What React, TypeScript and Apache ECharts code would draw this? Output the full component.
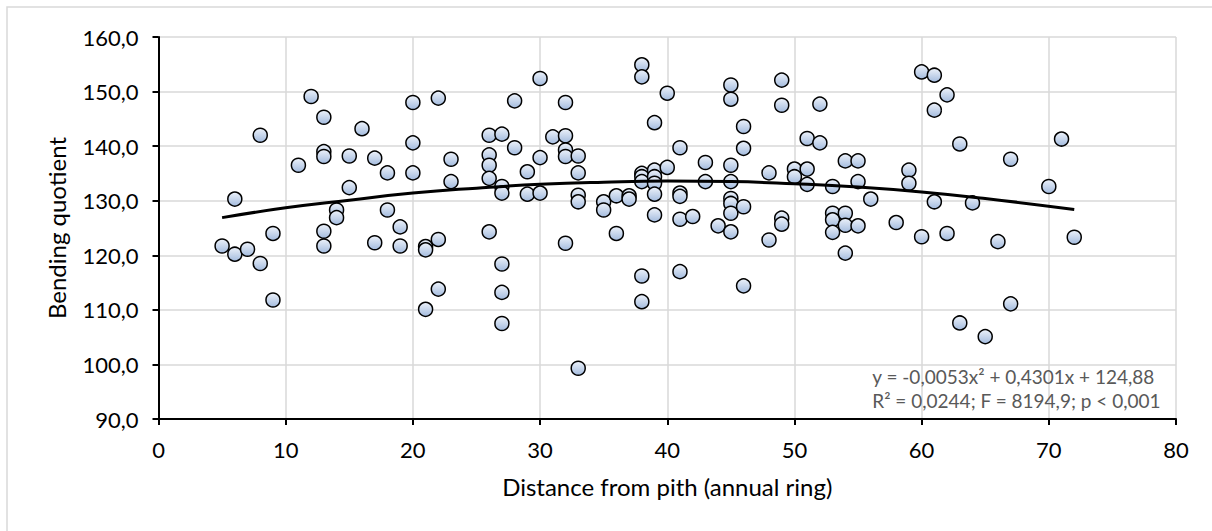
import React, { useEffect, useRef } from "react";
import * as echarts from "echarts";

// Observed points: [distance from pith (annual ring), bending quotient]
const ringX: number[] = [
  5, 6, 6, 7, 8, 8, 9, 9, 11, 12,
  13, 13, 13, 13, 13, 14, 14, 15, 15, 16,
  17, 17, 18, 18, 19, 19, 20, 20, 20, 21,
  21, 21, 22, 22, 22, 23, 23, 26, 26, 26,
  26, 26, 27, 27, 27, 27, 27, 27, 28, 28,
  29, 29, 30, 30, 30, 31, 32, 32, 32, 32,
  32, 33, 33, 33, 33, 33, 35, 35, 36, 36,
  37, 37, 38, 38, 38, 38, 38, 38, 38, 39,
  39, 39, 39, 39, 39, 40, 40, 41, 41, 41,
  41, 41, 42, 43, 43, 44, 45, 45, 45, 45,
  45, 45, 45, 45, 46, 46, 46, 46, 48, 48,
  49, 49, 49, 49, 50, 50, 51, 51, 51, 52,
  52, 53, 53, 53, 53, 54, 54, 54, 54, 55,
  55, 55, 56, 58, 59, 59, 60, 60, 61, 61,
  61, 62, 62, 63, 63, 64, 65, 66, 67, 67,
  70, 71, 72,
];
const quotientY: number[] = [
  121.7, 130.3, 120.2, 121.1, 142.0, 118.5, 124.0, 111.8, 136.5, 149.1,
  145.3, 139.0, 138.1, 124.4, 121.7, 128.3, 126.9, 138.2, 132.4, 143.2,
  137.8, 122.3, 135.1, 128.3, 125.2, 121.7, 148.0, 140.6, 135.1, 121.6,
  121.0, 110.1, 148.8, 122.9, 113.8, 137.6, 133.5, 142.0, 138.4, 136.5,
  134.1, 124.3, 142.2, 132.6, 131.4, 118.4, 113.2, 107.5, 148.3, 139.7,
  135.3, 131.2, 152.4, 137.9, 131.4, 141.7, 148.0, 141.9, 139.3, 138.1,
  122.2, 138.2, 135.1, 131.0, 129.8, 99.3, 129.8, 128.3, 130.9, 124.0,
  130.9, 130.3, 154.9, 152.7, 135.0, 134.4, 133.5, 116.2, 111.5, 144.3,
  135.6, 134.4, 133.2, 131.2, 127.4, 149.7, 136.1, 139.7, 131.4, 130.8,
  126.6, 117.0, 127.1, 137.0, 133.5, 125.4, 151.2, 148.6, 136.5, 133.5,
  130.4, 129.5, 127.7, 124.3, 143.6, 139.6, 128.9, 114.4, 135.1, 122.8,
  152.1, 147.5, 126.8, 125.7, 135.8, 134.4, 141.4, 135.8, 133.0, 147.7,
  140.6, 132.6, 127.7, 126.5, 124.2, 137.3, 127.7, 125.5, 120.4, 137.3,
  133.5, 125.4, 130.3, 126.0, 135.6, 133.2, 153.6, 123.4, 153.0, 146.6,
  129.8, 149.4, 124.0, 140.4, 107.6, 129.6, 105.1, 122.5, 137.6, 111.1,
  132.6, 141.3, 123.3,
];

// Polynomial trend line
const trendX: number[] = [5, 10, 15, 20, 25, 30, 35, 40, 45, 50, 55, 60, 65, 72];
const trendY: number[] = [126.9, 128.7, 130.1, 131.4, 132.3, 133.0, 133.4, 133.6, 133.5, 133.1, 132.5, 131.6, 130.4, 128.4];

const xTitle = "Distance from pith (annual ring)";
const yTitle = "Bending quotient";
const equationLines: string[] = [
  "y = -0,0053x² + 0,4301x + 124,88",
  "R² = 0,0244; F = 8194,9; p < 0,001",
];

const FONT = "Lato, 'Open Sans', sans-serif";

export default function App() {
  const ref = useRef<HTMLDivElement>(null);
  useEffect(() => {
    if (!ref.current) return;
    const chart = echarts.init(ref.current, undefined, { renderer: "svg" });
    const points = ringX.map((x, i) => [x, quotientY[i]]);
    const trend = trendX.map((x, i) => [x, trendY[i]]);
    chart.setOption({
      animation: false,
      backgroundColor: "#ffffff",
      grid: { left: 158.5, right: 36, top: 37, bottom: 112, containLabel: false },
      xAxis: {
        type: "value",
        min: 0,
        max: 80,
        interval: 10,
        name: xTitle,
        nameLocation: "middle",
        nameGap: 55,
        nameTextStyle: { fontFamily: FONT, fontSize: 24, color: "#000" },
        axisLine: { show: true, onZero: false, lineStyle: { color: "#000", width: 2 } },
        axisTick: { show: true, inside: false, length: 6, lineStyle: { color: "#000", width: 2 } },
        axisLabel: { fontFamily: FONT, fontSize: 22, color: "#000", margin: 19 },
        splitLine: { show: true, lineStyle: { color: "#d9d9d9", width: 1.5 } },
      },
      yAxis: {
        type: "value",
        min: 90,
        max: 160,
        interval: 10,
        name: yTitle,
        nameLocation: "middle",
        nameGap: 90,
        nameRotate: 90,
        nameTextStyle: { fontFamily: FONT, fontSize: 24, color: "#000" },
        axisLine: { show: true, onZero: false, lineStyle: { color: "#000", width: 2 } },
        axisTick: { show: true, inside: false, length: 6, lineStyle: { color: "#000", width: 2 } },
        axisLabel: {
          fontFamily: FONT,
          fontSize: 22,
          color: "#000",
          margin: 20,
          formatter: (v: number) => v.toFixed(1).replace(".", ","),
        },
        splitLine: { show: true, lineStyle: { color: "#d9d9d9", width: 1.5 } },
      },
      graphic: [
        {
          type: "rect",
          z: -10,
          silent: true,
          shape: { x: 7, y: 7, width: 1400, height: 700 },
          style: { fill: "none", stroke: "#d9d9d9", lineWidth: 1.5 },
        },
        {
          type: "text",
          right: 1212 - 1161,
          top: 364,
          z: 100,
          style: {
            text: equationLines.join("\n"),
            fontFamily: FONT,
            fontSize: 19,
            lineHeight: 24,
            fill: "#595959",
            align: "right",
          },
        },
      ],
      series: [
        {
          type: "scatter",
          data: points,
          symbol: "circle",
          symbolSize: 14,
          z: 2,
          itemStyle: {
            color: new echarts.graphic.LinearGradient(0, 0, 0, 1, [
              { offset: 0, color: "#edf2fa" },
              { offset: 1, color: "#a3bbde" },
            ]),
            borderColor: "#000",
            borderWidth: 1.5,
            opacity: 1,
          },
        },
        {
          type: "line",
          data: trend,
          smooth: true,
          showSymbol: false,
          symbol: "none",
          z: 3,
          lineStyle: { color: "#000", width: 3 },
        },
      ],
    });
    return () => chart.dispose();
  }, []);
  return (
    <div
      ref={ref}
      style={{ position: "fixed", left: 0, top: 0, width: 1212, height: 531, background: "#fff" }}
    />
  );
}
